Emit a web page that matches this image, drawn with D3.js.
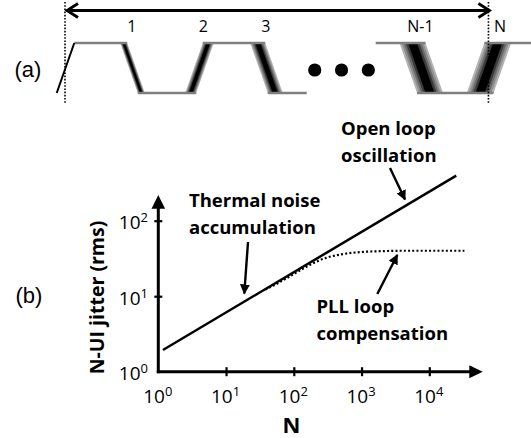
<!DOCTYPE html>
<html>
<head>
<meta charset="utf-8">
<script src="https://cdn.jsdelivr.net/npm/d3@7"></script>
<style>
  html, body { margin: 0; padding: 0; background: #fff; }
  svg { display: block; }
  text { fill: #000; }
</style>
</head>
<body>
<svg id="fig" width="531" height="438"></svg>
<script>
// ---- (a) clock edges accumulating jitter over N unit intervals ----
const edgeLabels = ["1", "2", "3", "N-1", "N"];
const edgeSlots  = [1, 2, 3, 5.31, 6.32];        // position in UI
const edgeRising = [false, true, false, false, true];
const edgeJitter = [0.052, 0.082, 0.112, 0.194, 0.2]; // half spread, UI
const ellipsisSlots = [3.72, 4.12, 4.52];

// ---- (b) N-UI jitter versus N ----
const openLoopN = [1.17, 25000];
const openLoopJ = [1.94, 395];
const pllN = [38, 60, 100, 150, 200, 300, 500, 1000, 2000, 4000, 10000, 33000];
const pllJ = [12.2, 15.1, 19.7, 24.3, 27.8, 32.2, 35.8, 38.5, 39.5, 40, 40, 40];
const xTickValues = [1, 10, 100, 1000, 10000];
const yTickValues = [1, 10, 100];

const svg = d3.select("#fig");
const font = "'Open Sans', 'Noto Sans', sans-serif";

// arrowhead marker for the pointers
const defs = svg.append("defs");
defs.append("marker").attr("id", "tri")
  .attr("viewBox", "0 0 10 10").attr("refX", 9).attr("refY", 5)
  .attr("markerWidth", 4.2).attr("markerHeight", 4.2).attr("orient", "auto")
  .attr("markerUnits", "strokeWidth")
  .append("path").attr("d", "M0,0 L10,5 L0,10 Z").attr("fill", "#000");

// ================= panel (a) =================
const ui = d3.scaleLinear().domain([0, 1]).range([65.5, 132.5]);
const lvl = d3.scaleLinear().domain([0, 1]).range([93, 43]);
const halfRun = 0.131; // half the horizontal run of one transition, UI

const ga = svg.append("g");

// x of an edge's centre at a given logic level
function edgeX(slot, rising, level) {
  const s = rising ? 1 : -1;
  return ui(slot + s * (level - 0.5) * 2 * halfRun);
}

const edges = edgeSlots.map((s, i) => ({
  slot: s, rising: edgeRising[i], j: edgeJitter[i], label: edgeLabels[i]
}));
const jpx = e => e.j * (ui(1) - ui(0));

// flat segments between transitions
const flats = [
  { x1: ui(halfRun), x2: edgeX(edges[0].slot, false, 1) + jpx(edges[0]), level: 1 },
  { x1: edgeX(edges[0].slot, false, 0) - jpx(edges[0]), x2: edgeX(edges[1].slot, true, 0) + jpx(edges[1]), level: 0 },
  { x1: edgeX(edges[1].slot, true, 1) - jpx(edges[1]), x2: edgeX(edges[2].slot, false, 1) + jpx(edges[2]), level: 1 },
  { x1: edgeX(edges[2].slot, false, 0) - jpx(edges[2]), x2: ui(3.6), level: 0 },
  { x1: ui(4.63), x2: edgeX(edges[3].slot, false, 1) + jpx(edges[3]), level: 1 },
  { x1: edgeX(edges[3].slot, false, 0) - jpx(edges[3]), x2: edgeX(edges[4].slot, true, 0) + jpx(edges[4]), level: 0 },
  { x1: edgeX(edges[4].slot, true, 1) - jpx(edges[4]), x2: ui(7.1), level: 1 }
];

// jittered edges: nested bands, light outside, black core
const bandFrac = [1, 0.84, 0.68, 0.52, 0.34];
const bandCol = ["#b2b2b2", "#8e8e8e", "#686868", "#3a3a3a", "#000"];
edges.forEach(e => {
  const w = jpx(e);
  const xt = edgeX(e.slot, e.rising, 1), xb = edgeX(e.slot, e.rising, 0);
  bandFrac.forEach((f, k) => {
    const h = w * f;
    ga.append("path")
      .attr("d", `M${xt - h},${lvl(1)} L${xt + h},${lvl(1)} L${xb + h},${lvl(0)} L${xb - h},${lvl(0)} Z`)
      .attr("fill", bandCol[k]);
  });
});

ga.selectAll("line.flat").data(flats).join("line").attr("class", "flat")
  .attr("x1", d => d.x1).attr("x2", d => d.x2)
  .attr("y1", d => lvl(d.level)).attr("y2", d => lvl(d.level))
  .attr("stroke", "#7f7f7f").attr("stroke-width", 2.6);

// reference (jitter-free) first edge
ga.append("line")
  .attr("x1", ui(-halfRun)).attr("y1", lvl(0))
  .attr("x2", ui(halfRun)).attr("y2", lvl(1))
  .attr("stroke", "#000").attr("stroke-width", 2);

// ellipsis
ga.selectAll("circle.dot").data(ellipsisSlots).join("circle").attr("class", "dot")
  .attr("cx", d => ui(d)).attr("cy", lvl(0.46)).attr("r", 6.6).attr("fill", "#000");

// edge labels
ga.selectAll("text.elab").data(edges).join("text").attr("class", "elab")
  .attr("x", (d, i) => i === 4 ? ui(d.slot) + 11 : edgeX(d.slot, d.rising, 1) + (d.rising ? -5 : 8))
  .attr("y", 31.8).attr("text-anchor", "middle")
  .attr("font-family", font).attr("font-size", 16)
  .text(d => d.label);

// dotted reference verticals at UI 0 and UI N
[0, edgeSlots[4]].forEach(s => {
  ga.append("line").attr("x1", ui(s) - 0.5).attr("x2", ui(s) - 0.5)
    .attr("y1", 2).attr("y2", 103)
    .attr("stroke", "#000").attr("stroke-width", 1.6).attr("stroke-dasharray", "1.6,1.6");
});

// double-headed span arrow
const ay = 10.5, ax1 = ui(0) + 1.5, ax2 = ui(edgeSlots[4]) + 0.5;
ga.append("line").attr("x1", ax1).attr("x2", ax2).attr("y1", ay).attr("y2", ay)
  .attr("stroke", "#000").attr("stroke-width", 2.8);
ga.append("path").attr("d", `M${ax1 + 11},${ay - 7} L${ax1},${ay} L${ax1 + 11},${ay + 7}`)
  .attr("fill", "none").attr("stroke", "#000").attr("stroke-width", 2.8);
ga.append("path").attr("d", `M${ax2 - 11},${ay - 7} L${ax2},${ay} L${ax2 - 11},${ay + 7}`)
  .attr("fill", "none").attr("stroke", "#000").attr("stroke-width", 2.8);

svg.append("text").attr("x", 28).attr("y", 76.5).attr("text-anchor", "middle")
  .attr("font-family", "'Liberation Sans', Arial, sans-serif").attr("font-size", 22).text("(a)");

// ================= panel (b) =================
const x = d3.scaleLog().domain([1, 1e4]).range([158.3, 429.3]);
const y = d3.scaleLog().domain([1, 100]).range([371.7, 220.7]);
const gb = svg.append("g");

// x axis with crossing ticks
const xAxis = gb.append("g").attr("transform", `translate(0,${y(1)})`)
  .call(d3.axisBottom(x).tickValues(xTickValues.slice(1)).tickSize(8).tickFormat(""));
xAxis.select(".domain").remove();
xAxis.selectAll(".tick line").attr("y1", -4.5).attr("y2", 4.5).attr("stroke-width", 2.2);

const yAxis = gb.append("g").attr("transform", `translate(${x(1)},0)`)
  .call(d3.axisLeft(y).tickValues(yTickValues.slice(1)).tickSize(8).tickFormat(""));
yAxis.select(".domain").remove();
yAxis.selectAll(".tick line").attr("x1", -4).attr("x2", 4).attr("stroke-width", 2.2);

// axis lines with solid arrowheads
const ox = x(1), oy = y(1);
gb.append("line").attr("x1", ox - 1.5).attr("x2", 472).attr("y1", oy).attr("y2", oy)
  .attr("stroke", "#000").attr("stroke-width", 3);
gb.append("path").attr("d", `M${x(1e4) + 53.4},${oy} L${x(1e4) + 40},${oy - 6.5} L${x(1e4) + 40},${oy + 6.5} Z`);
gb.append("line").attr("x1", ox).attr("x2", ox).attr("y1", oy + 1.5).attr("y2", 205)
  .attr("stroke", "#000").attr("stroke-width", 3);
gb.append("path").attr("d", `M${ox},${y(100) - 25.7} L${ox - 6.8},${y(100) - 12} L${ox + 6.8},${y(100) - 12} Z`);

// tick labels 10^k
function powLabel(sel, k) {
  sel.append("tspan").text("10");
  sel.append("tspan").attr("dy", -7).attr("font-size", 13).text(k);
}
xTickValues.forEach(v => {
  const t = gb.append("text").attr("x", x(v) - 0.5).attr("y", 402.7).attr("text-anchor", "middle")
    .attr("font-family", font).attr("font-size", 19);
  powLabel(t, Math.round(Math.log10(v)));
});
yTickValues.forEach(v => {
  const t = gb.append("text").attr("x", 148).attr("y", y(v) + 8.5).attr("text-anchor", "end")
    .attr("font-family", font).attr("font-size", 19);
  powLabel(t, Math.round(Math.log10(v)));
});

// axis titles
gb.append("text").attr("x", 291.5).attr("y", 432.5).attr("text-anchor", "middle")
  .attr("font-family", font).attr("font-weight", 700).attr("font-size", 22).text("N");
gb.append("text").attr("transform", `translate(104,297.5) rotate(-90)`).attr("text-anchor", "middle")
  .attr("font-family", font).attr("font-weight", 700).attr("font-size", 19.5).text("N-UI jitter (rms)");
svg.append("text").attr("x", 29).attr("y", 303).attr("text-anchor", "middle")
  .attr("font-family", "'Liberation Sans', Arial, sans-serif").attr("font-size", 22).text("(b)");

// curves
gb.append("path").datum(d3.zip(pllN, pllJ))
  .attr("d", d3.line().x(d => x(d[0])).y(d => y(d[1])).curve(d3.curveMonotoneX))
  .attr("fill", "none").attr("stroke", "#000").attr("stroke-width", 2.2).attr("stroke-dasharray", "2,2.2");
gb.append("path").datum(d3.zip(openLoopN, openLoopJ))
  .attr("d", d3.line().x(d => x(d[0])).y(d => y(d[1])))
  .attr("fill", "none").attr("stroke", "#000").attr("stroke-width", 2.5);

// annotations
function note(lines, x0, y0) {
  const t = gb.append("text").attr("font-family", font).attr("font-weight", 700).attr("font-size", 18.5);
  lines.forEach((s, i) => t.append("tspan").attr("x", x0).attr("y", y0 + i * 27).text(s));
}
note(["Open loop", "oscillation"], 341, 135);
note(["Thermal noise", "accumulation"], 189, 207);
note(["PLL loop", "compensation"], 316.5, 313);

function pointer(x1, y1, x2, y2) {
  gb.append("line").attr("x1", x1).attr("y1", y1).attr("x2", x2).attr("y2", y2)
    .attr("stroke", "#000").attr("stroke-width", 2.4).attr("marker-end", "url(#tri)");
}
pointer(390, 168, 405, 199.5);
pointer(248, 242, 244.3, 293.5);
pointer(377.3, 294, 397.3, 255);
</script>
</body>
</html>
